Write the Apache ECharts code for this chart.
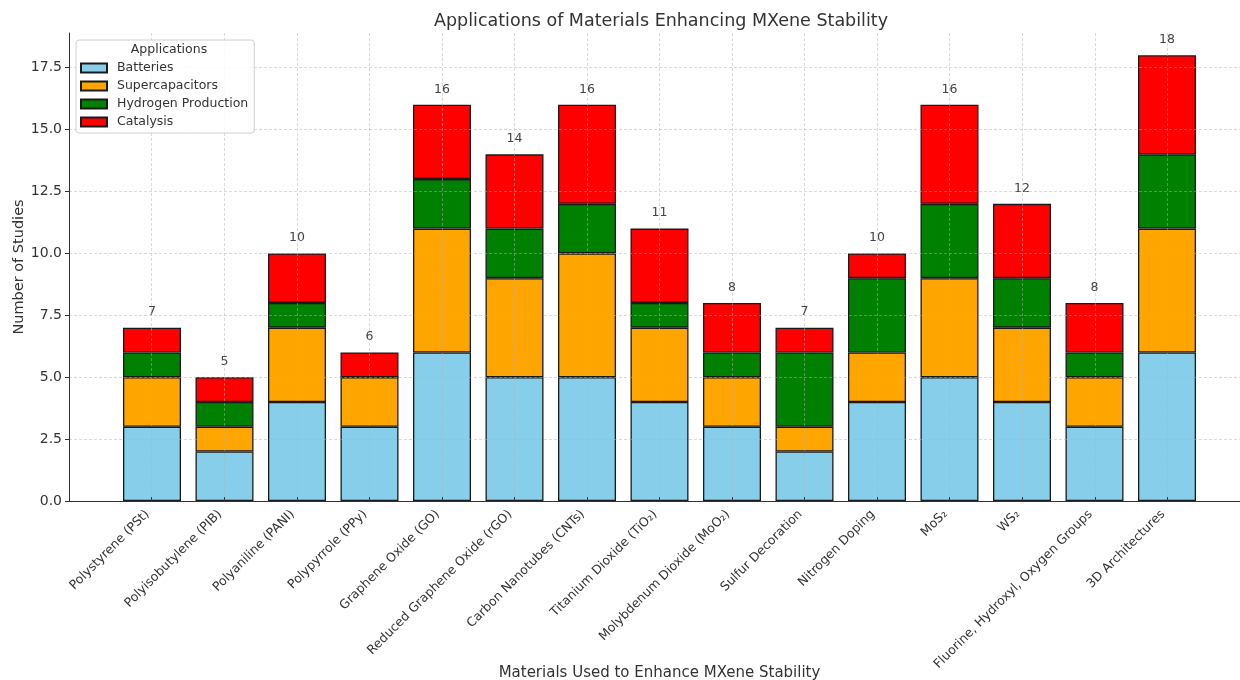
<!DOCTYPE html>
<html><head><meta charset="utf-8">
<script src="https://cdn.jsdelivr.net/npm/echarts@6/dist/echarts.min.js"></script>
<style>html,body{margin:0;padding:0;background:#fff}#c{width:1240px;height:680px}</style>
</head><body><div id="c"></div>
<script>
const categories = ["Polystyrene (PSt)", "Polyisobutylene (PIB)", "Polyaniline (PANI)", "Polypyrrole (PPy)",
  "Graphene Oxide (GO)", "Reduced Graphene Oxide (rGO)", "Carbon Nanotubes (CNTs)", "Titanium Dioxide (TiO₂)",
  "Molybdenum Dioxide (MoO₂)", "Sulfur Decoration", "Nitrogen Doping", "MoS₂", "WS₂",
  "Fluorine, Hydroxyl, Oxygen Groups", "3D Architectures"];
const batteries       = [3, 2, 4, 3, 6, 5, 5, 4, 3, 2, 4, 5, 4, 3, 6];
const supercapacitors = [2, 1, 3, 2, 5, 4, 5, 3, 2, 1, 2, 4, 3, 2, 5];
const hydrogen        = [1, 1, 1, 0, 2, 2, 2, 1, 1, 3, 3, 3, 2, 1, 3];
const catalysis       = [1, 1, 2, 1, 3, 3, 4, 3, 2, 1, 1, 4, 3, 2, 4];
const seriesNames = ["Batteries", "Supercapacitors", "Hydrogen Production", "Catalysis"];
const seriesColors = ["#87CEEB", "#FFA500", "#008000", "#FF0000"];
const yTicks = [0, 2.5, 5, 7.5, 10, 12.5, 15, 17.5];

const seriesValues = [batteries, supercapacitors, hydrogen, catalysis];
const totals = categories.map((_, i) => seriesValues.reduce((s, a) => s + a[i], 0));
const xPositions = categories.map((_, i) => i);
const FONT = "DejaVu Sans";
const GRID_LINE = {show: true, lineStyle: {color: 'rgba(176,176,176,0.6)', type: [3, 2], width: 0.8}};

const chart = echarts.init(document.getElementById('c'), null, {renderer: 'canvas'});
chart.setOption({
  animation: false,
  backgroundColor: '#fff',
  textStyle: {fontFamily: FONT},
  title: [
    {text: 'Applications of Materials Enhancing MXene Stability', left: 656, top: 7, textAlign: 'center',
     textStyle: {fontFamily: FONT, fontSize: 17.5, fontWeight: 'normal', color: '#333'}},
    {text: 'Applications', left: 164, top: 38, textAlign: 'center',
     textStyle: {fontFamily: FONT, fontSize: 12.5, fontWeight: 'normal', color: '#333'}}
  ],
  legend: {
    orient: 'vertical', left: 76, top: 40,
    data: seriesNames, icon: 'rect',
    itemWidth: 26, itemHeight: 9, itemGap: 4,
    padding: [21, 6, 4, 4],
    backgroundColor: 'rgba(255,255,255,0.85)',
    borderColor: '#d0d0d0', borderWidth: 1, borderRadius: 3,
    textStyle: {fontFamily: FONT, fontSize: 12.5, color: '#333', lineHeight: 14, padding: [0, 0, 0, 5]}
  },
  grid: [
    {left: 69, right: -10, top: 33, bottom: 179, containLabel: false, outerBoundsMode: 'none'},
    {left: 115.75, right: 36.75, top: 33, bottom: 179, containLabel: false, outerBoundsMode: 'none'}
  ],
  xAxis: [{
    gridIndex: 0, type: 'value', min: -1.14, max: 15.14, z: 3,
    name: 'Materials Used to Enhance MXene Stability', nameLocation: 'middle', nameGap: 165,
    nameMoveOverlap: false,
    nameTextStyle: {fontFamily: FONT, fontSize: 15, color: '#333'},
    axisLine: {show: true, onZero: false, lineStyle: {color: '#333', width: 1}},
    axisTick: {show: true, inside: true, length: 4, customValues: xPositions, lineStyle: {color: '#333'}},
    axisLabel: {customValues: xPositions, rotate: 45, margin: 7, padding: [0, 6, 0, 0],
      fontFamily: FONT, fontSize: 12.5, color: '#333',
      formatter: v => categories[Math.round(v)]},
    splitLine: GRID_LINE
  }, {
    gridIndex: 1, type: 'category', data: categories, show: false
  }],
  yAxis: [{
    gridIndex: 0, type: 'value', min: 0, max: 18.9, z: 3,
    name: 'Number of Studies', nameLocation: 'middle', nameGap: 42,
    nameMoveOverlap: false,
    nameTextStyle: {fontFamily: FONT, fontSize: 14.5, color: '#333'},
    axisLine: {show: true, onZero: false, lineStyle: {color: '#333', width: 1}},
    axisTick: {show: true, length: 4, customValues: yTicks, lineStyle: {color: '#333'}},
    axisLabel: {customValues: yTicks, margin: 7, fontFamily: FONT, fontSize: 14, color: '#333',
      formatter: v => v.toFixed(1)},
    splitLine: GRID_LINE
  }, {
    gridIndex: 1, type: 'value', min: 0, max: 18.9, show: false
  }],
  series: seriesNames.map((name, k) => ({
    name: name, type: 'bar', stack: 'total', barWidth: '80%',
    xAxisIndex: 1, yAxisIndex: 1,
    data: seriesValues[k],
    itemStyle: {color: seriesColors[k], borderColor: '#1a1a1a', borderWidth: 1.3},
    label: k === 3 ? {show: true, position: 'top', distance: 9, fontFamily: FONT, fontSize: 12.5, color: '#444',
      formatter: p => String(totals[p.dataIndex])} : {show: false}
  }))
});
</script></body></html>
